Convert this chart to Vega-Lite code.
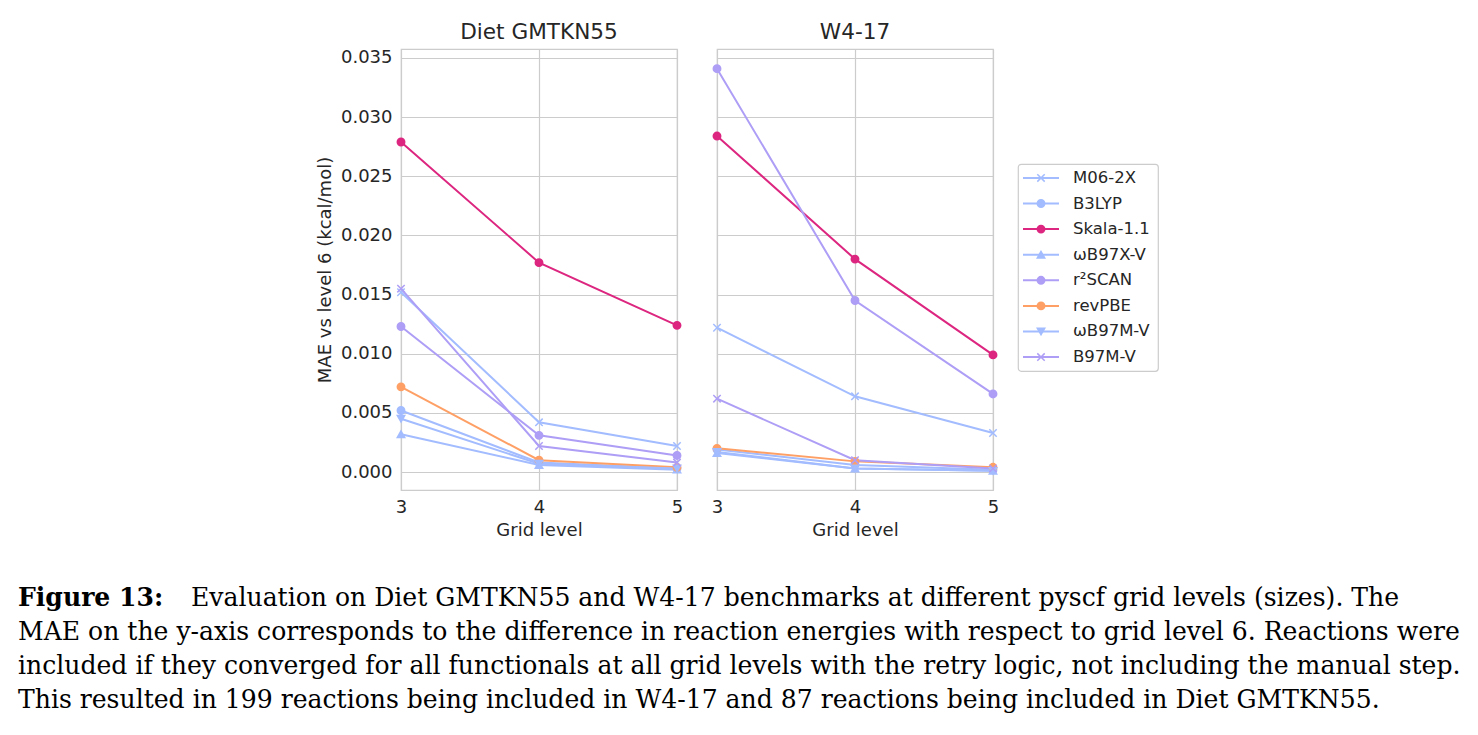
{
  "$schema": "https://vega.github.io/schema/vega-lite/v6.json",
  "padding": {"left": 18, "top": 21, "right": 0, "bottom": 0},
  "background": "white",
  "spacing": 46,
  "datasets": {
    "mae": [
      {"benchmark": "Diet GMTKN55", "method": "M06-2X", "grid": 3, "mae": 0.0152},
      {"benchmark": "Diet GMTKN55", "method": "M06-2X", "grid": 4, "mae": 0.0042},
      {"benchmark": "Diet GMTKN55", "method": "M06-2X", "grid": 5, "mae": 0.0022},
      {"benchmark": "Diet GMTKN55", "method": "B3LYP", "grid": 3, "mae": 0.0052},
      {"benchmark": "Diet GMTKN55", "method": "B3LYP", "grid": 4, "mae": 0.0008},
      {"benchmark": "Diet GMTKN55", "method": "B3LYP", "grid": 5, "mae": 0.0003},
      {"benchmark": "Diet GMTKN55", "method": "Skala-1.1", "grid": 3, "mae": 0.0279},
      {"benchmark": "Diet GMTKN55", "method": "Skala-1.1", "grid": 4, "mae": 0.0177},
      {"benchmark": "Diet GMTKN55", "method": "Skala-1.1", "grid": 5, "mae": 0.0124},
      {"benchmark": "Diet GMTKN55", "method": "ωB97X-V", "grid": 3, "mae": 0.0032},
      {"benchmark": "Diet GMTKN55", "method": "ωB97X-V", "grid": 4, "mae": 0.0006},
      {"benchmark": "Diet GMTKN55", "method": "ωB97X-V", "grid": 5, "mae": 0.0002},
      {"benchmark": "Diet GMTKN55", "method": "r²SCAN", "grid": 3, "mae": 0.0123},
      {"benchmark": "Diet GMTKN55", "method": "r²SCAN", "grid": 4, "mae": 0.0031},
      {"benchmark": "Diet GMTKN55", "method": "r²SCAN", "grid": 5, "mae": 0.0014},
      {"benchmark": "Diet GMTKN55", "method": "revPBE", "grid": 3, "mae": 0.0072},
      {"benchmark": "Diet GMTKN55", "method": "revPBE", "grid": 4, "mae": 0.0010},
      {"benchmark": "Diet GMTKN55", "method": "revPBE", "grid": 5, "mae": 0.0004},
      {"benchmark": "Diet GMTKN55", "method": "ωB97M-V", "grid": 3, "mae": 0.0045},
      {"benchmark": "Diet GMTKN55", "method": "ωB97M-V", "grid": 4, "mae": 0.0007},
      {"benchmark": "Diet GMTKN55", "method": "ωB97M-V", "grid": 5, "mae": 0.0003},
      {"benchmark": "Diet GMTKN55", "method": "B97M-V", "grid": 3, "mae": 0.0155},
      {"benchmark": "Diet GMTKN55", "method": "B97M-V", "grid": 4, "mae": 0.0022},
      {"benchmark": "Diet GMTKN55", "method": "B97M-V", "grid": 5, "mae": 0.0008},
      {"benchmark": "W4-17", "method": "M06-2X", "grid": 3, "mae": 0.0122},
      {"benchmark": "W4-17", "method": "M06-2X", "grid": 4, "mae": 0.0064},
      {"benchmark": "W4-17", "method": "M06-2X", "grid": 5, "mae": 0.0033},
      {"benchmark": "W4-17", "method": "B3LYP", "grid": 3, "mae": 0.0019},
      {"benchmark": "W4-17", "method": "B3LYP", "grid": 4, "mae": 0.0006},
      {"benchmark": "W4-17", "method": "B3LYP", "grid": 5, "mae": 0.0002},
      {"benchmark": "W4-17", "method": "Skala-1.1", "grid": 3, "mae": 0.0284},
      {"benchmark": "W4-17", "method": "Skala-1.1", "grid": 4, "mae": 0.0180},
      {"benchmark": "W4-17", "method": "Skala-1.1", "grid": 5, "mae": 0.0099},
      {"benchmark": "W4-17", "method": "ωB97X-V", "grid": 3, "mae": 0.0016},
      {"benchmark": "W4-17", "method": "ωB97X-V", "grid": 4, "mae": 0.0003},
      {"benchmark": "W4-17", "method": "ωB97X-V", "grid": 5, "mae": 0.0001},
      {"benchmark": "W4-17", "method": "r²SCAN", "grid": 3, "mae": 0.0341},
      {"benchmark": "W4-17", "method": "r²SCAN", "grid": 4, "mae": 0.0145},
      {"benchmark": "W4-17", "method": "r²SCAN", "grid": 5, "mae": 0.0066},
      {"benchmark": "W4-17", "method": "revPBE", "grid": 3, "mae": 0.0020},
      {"benchmark": "W4-17", "method": "revPBE", "grid": 4, "mae": 0.0009},
      {"benchmark": "W4-17", "method": "revPBE", "grid": 5, "mae": 0.0004},
      {"benchmark": "W4-17", "method": "ωB97M-V", "grid": 3, "mae": 0.0017},
      {"benchmark": "W4-17", "method": "ωB97M-V", "grid": 4, "mae": 0.0003},
      {"benchmark": "W4-17", "method": "ωB97M-V", "grid": 5, "mae": 0.0001},
      {"benchmark": "W4-17", "method": "B97M-V", "grid": 3, "mae": 0.0062},
      {"benchmark": "W4-17", "method": "B97M-V", "grid": 4, "mae": 0.0010},
      {"benchmark": "W4-17", "method": "B97M-V", "grid": 5, "mae": 0.0003}
    ],
    "methods": [
      {"method": "M06-2X"}, {"method": "B3LYP"}, {"method": "Skala-1.1"}, {"method": "ωB97X-V"},
      {"method": "r²SCAN"}, {"method": "revPBE"}, {"method": "ωB97M-V"}, {"method": "B97M-V"}
    ],
    "caption": [
      {"line": 1, "part": "bold", "text": "Figure 13:"},
      {"line": 1, "part": "rest", "text": "Evaluation on Diet GMTKN55 and W4-17 benchmarks at different pyscf grid levels (sizes). The"},
      {"line": 2, "part": "plain", "text": "MAE on the y-axis corresponds to the difference in reaction energies with respect to grid level 6. Reactions were"},
      {"line": 3, "part": "plain", "text": "included if they converged for all functionals at all grid levels with the retry logic, not including the manual step."},
      {"line": 4, "part": "plain", "text": "This resulted in 199 reactions being included in W4-17 and 87 reactions being included in Diet GMTKN55."}
    ]
  },
  "vconcat": [
    {
      "spacing": 16,
      "hconcat": [
        {"width": 281, "height": 10, "view": {"stroke": null}, "data": {"values": []}, "mark": "point"},
        {
          "spacing": 24,
          "hconcat": [
            {
              "width": 276, "height": 441,
              "title": {"text": "Diet GMTKN55"},
              "view": {"stroke": "#cccccc", "strokeWidth": 1.2},
              "data": {"name": "mae"},
              "transform": [{"filter": "datum.benchmark === 'Diet GMTKN55'"}],
              "encoding": {
                "x": {"field": "grid", "type": "ordinal", "sort": [3, 4, 5],
                  "scale": {"type": "point", "padding": 0},
                  "axis": {"title": "Grid level", "grid": true, "labelAngle": 0, "labelPadding": 8, "titlePadding": 5, "labelOverlap": false}},
                "y": {"field": "mae", "type": "quantitative",
                  "scale": {"domain": [-0.00152, 0.03576], "nice": false, "zero": false},
                  "axis": {"title": "MAE vs level 6 (kcal/mol)", "values": [0, 0.005, 0.01, 0.015, 0.02, 0.025, 0.03, 0.035], "tickCount": 10, "format": ".3f", "labelPadding": 9, "titlePadding": 6, "labelFlush": false, "labelOverlap": false}},
                "color": {"field": "method", "type": "nominal", "legend": null,
                  "scale": {"domain": ["M06-2X", "B3LYP", "Skala-1.1", "ωB97X-V", "r²SCAN", "revPBE", "ωB97M-V", "B97M-V"],
                    "range": ["#A2BCFF", "#A2BCFF", "#DC267F", "#A2BCFF", "#AE9EF6", "#FEA066", "#A2BCFF", "#AE9EF6"]}}
              },
              "layer": [
                {"mark": {"type": "line", "strokeWidth": 2}},
                {"mark": {"type": "point", "filled": true, "size": 55, "strokeWidth": 1.5, "opacity": 1},
                  "encoding": {
                    "stroke": {"field": "method", "type": "nominal", "legend": null,
                      "scale": {"domain": ["M06-2X", "B3LYP", "Skala-1.1", "ωB97X-V", "r²SCAN", "revPBE", "ωB97M-V", "B97M-V"],
                        "range": ["#A2BCFF", "#A2BCFF", "#DC267F", "#A2BCFF", "#AE9EF6", "#FEA066", "#A2BCFF", "#AE9EF6"]}},
                    "shape": {"field": "method", "type": "nominal", "legend": null,
                      "scale": {"domain": ["M06-2X", "B3LYP", "Skala-1.1", "ωB97X-V", "r²SCAN", "revPBE", "ωB97M-V", "B97M-V"],
                        "range": ["M-1,-1L1,1M-1,1L1,-1", "circle", "circle", "triangle-up", "circle", "circle", "triangle-down", "M-1,-1L1,1M-1,1L1,-1"]}}
                  }}
              ]
            },
            {
              "width": 276, "height": 441,
              "title": {"text": "W4-17"},
              "view": {"stroke": "#cccccc", "strokeWidth": 1.2},
              "data": {"name": "mae"},
              "transform": [{"filter": "datum.benchmark === 'W4-17'"}],
              "encoding": {
                "x": {"field": "grid", "type": "ordinal", "sort": [3, 4, 5],
                  "scale": {"type": "point", "padding": 0},
                  "axis": {"title": "Grid level", "grid": true, "labelAngle": 0, "labelPadding": 8, "titlePadding": 5, "labelOverlap": false}},
                "y": {"field": "mae", "type": "quantitative",
                  "scale": {"domain": [-0.00152, 0.03576], "nice": false, "zero": false},
                  "axis": {"title": null, "labels": false, "tickCount": 10, "values": [0, 0.005, 0.01, 0.015, 0.02, 0.025, 0.03, 0.035]}},
                "color": {"field": "method", "type": "nominal", "legend": null,
                  "scale": {"domain": ["M06-2X", "B3LYP", "Skala-1.1", "ωB97X-V", "r²SCAN", "revPBE", "ωB97M-V", "B97M-V"],
                    "range": ["#A2BCFF", "#A2BCFF", "#DC267F", "#A2BCFF", "#AE9EF6", "#FEA066", "#A2BCFF", "#AE9EF6"]}}
              },
              "layer": [
                {"mark": {"type": "line", "strokeWidth": 2}},
                {"mark": {"type": "point", "filled": true, "size": 55, "strokeWidth": 1.5, "opacity": 1},
                  "encoding": {
                    "stroke": {"field": "method", "type": "nominal", "legend": null,
                      "scale": {"domain": ["M06-2X", "B3LYP", "Skala-1.1", "ωB97X-V", "r²SCAN", "revPBE", "ωB97M-V", "B97M-V"],
                        "range": ["#A2BCFF", "#A2BCFF", "#DC267F", "#A2BCFF", "#AE9EF6", "#FEA066", "#A2BCFF", "#AE9EF6"]}},
                    "shape": {"field": "method", "type": "nominal", "legend": null,
                      "scale": {"domain": ["M06-2X", "B3LYP", "Skala-1.1", "ωB97X-V", "r²SCAN", "revPBE", "ωB97M-V", "B97M-V"],
                        "range": ["M-1,-1L1,1M-1,1L1,-1", "circle", "circle", "triangle-up", "circle", "circle", "triangle-down", "M-1,-1L1,1M-1,1L1,-1"]}}
                  }}
              ]
            }
          ]
        },
        {
          "spacing": 0,
          "vconcat": [
            {"width": 140, "height": 114, "view": {"stroke": null}, "data": {"values": []}, "mark": "point"},
            {
              "width": 140, "height": 207,
              "view": {"stroke": "#cccccc", "strokeWidth": 1.2, "cornerRadius": 3},
              "data": {"name": "methods"},
              "encoding": {
                "y": {"field": "method", "type": "nominal", "axis": null,
                  "sort": ["M06-2X", "B3LYP", "Skala-1.1", "ωB97X-V", "r²SCAN", "revPBE", "ωB97M-V", "B97M-V"],
                  "scale": {"type": "point", "padding": 0.543}}
              },
              "layer": [
                {"mark": {"type": "rule", "strokeWidth": 2},
                  "encoding": {
                    "x": {"datum": 0, "type": "quantitative", "scale": {"domain": [-0.1389, 3.75]}, "axis": null},
                    "x2": {"datum": 1},
                    "color": {"field": "method", "type": "nominal", "legend": null}
                  }},
                {"mark": {"type": "point", "filled": true, "size": 55, "strokeWidth": 1.5, "opacity": 1},
                  "encoding": {
                    "x": {"datum": 0.5, "type": "quantitative", "scale": {"domain": [-0.1389, 3.75]}, "axis": null},
                    "color": {"field": "method", "type": "nominal", "legend": null},
                    "stroke": {"field": "method", "type": "nominal", "legend": null},
                    "shape": {"field": "method", "type": "nominal", "legend": null}
                  }},
                {"mark": {"type": "text", "align": "left", "baseline": "middle", "font": "DejaVu Sans", "fontSize": 16.5, "color": "#262626"},
                  "encoding": {
                    "x": {"datum": 1.389, "type": "quantitative", "scale": {"domain": [-0.1389, 3.75]}, "axis": null},
                    "text": {"field": "method"}
                  }}
              ]
            }
          ]
        }
      ]
    },
    {
      "width": 1442,
      "height": 102,
      "view": {"stroke": null},
      "data": {"name": "caption"},
      "encoding": {
        "x": {"datum": 0, "type": "quantitative", "scale": {"domain": [0, 1]}, "axis": null},
        "y": {"field": "line", "type": "ordinal", "axis": null, "scale": {"type": "point", "padding": 0}},
        "text": {"field": "text"}
      },
      "layer": [
        {"transform": [{"filter": "datum.part === 'bold'"}],
          "mark": {"type": "text", "align": "left", "baseline": "middle", "font": "DejaVu Serif", "fontSize": 25.1, "fontWeight": "bold", "color": "#000000"}},
        {"transform": [{"filter": "datum.part === 'rest'"}],
          "mark": {"type": "text", "align": "left", "baseline": "middle", "dx": 173, "font": "DejaVu Serif", "fontSize": 25.1, "color": "#000000"}},
        {"transform": [{"filter": "datum.part === 'plain'"}],
          "mark": {"type": "text", "align": "left", "baseline": "middle", "font": "DejaVu Serif", "fontSize": 25.1, "color": "#000000"}}
      ]
    }
  ],
  "config": {
    "font": "DejaVu Sans",
    "title": {"font": "DejaVu Sans", "fontSize": 21.6, "fontWeight": "normal", "color": "#262626", "offset": 5, "frame": "group", "anchor": "middle"},
    "axis": {"grid": true, "gridColor": "#cccccc", "gridWidth": 1.2, "domain": false, "ticks": false, "tickSize": 0,
      "labelFont": "DejaVu Sans", "labelFontSize": 18, "labelColor": "#262626",
      "titleFont": "DejaVu Sans", "titleFontSize": 18, "titleFontWeight": "normal", "titleColor": "#262626"}
  }
}
